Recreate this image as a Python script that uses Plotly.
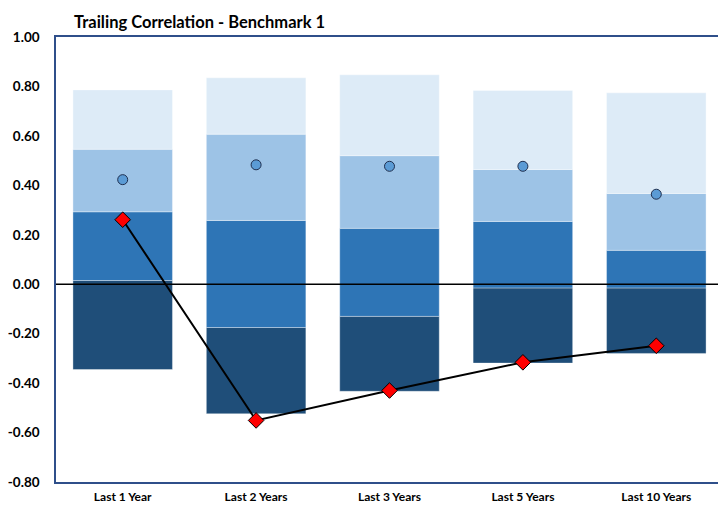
import plotly.graph_objects as go

categories = ["Last 1 Year", "Last 2 Years", "Last 3 Years", "Last 5 Years", "Last 10 Years"]
range_min = [-0.345, -0.524, -0.433, -0.319, -0.280]
range_q1 = [0.015, -0.175, -0.130, -0.015, -0.015]
range_med = [0.293, 0.258, 0.226, 0.254, 0.137]
range_q3 = [0.546, 0.607, 0.520, 0.464, 0.367]
range_max = [0.786, 0.835, 0.847, 0.784, 0.774]
peer_avg = [0.423, 0.483, 0.477, 0.477, 0.364]
portfolio = [0.261, -0.551, -0.430, -0.316, -0.249]
y_ticks = [1.0, 0.8, 0.6, 0.4, 0.2, 0.0, -0.2, -0.4, -0.6, -0.8]

FONT = "Lato, 'Open Sans', Arial, sans-serif"
colors = ["#1F4E79", "#2E75B6", "#9DC3E6", "#DDEBF7"]
edges = [range_min, range_q1, range_med, range_q3, range_max]

# page body has an 8px default margin; figure is sized to fill the rest of the window
W, H = 718, 498

fig = go.Figure()
for i in range(4):
    lo = edges[i]
    hi = edges[i + 1]
    fig.add_trace(go.Bar(
        x=categories,
        y=[h - l for h, l in zip(hi, lo)],
        base=lo,
        marker=dict(color=colors[i], line=dict(color="rgba(255,255,255,0.35)", width=1)),
        showlegend=False,
        hoverinfo="skip",
    ))

fig.add_trace(go.Scatter(
    x=categories, y=peer_avg, mode="markers",
    marker=dict(symbol="circle", size=10, color="#5B9BD5", line=dict(color="#1F2F4F", width=1)),
    showlegend=False,
))
fig.add_trace(go.Scatter(
    x=categories, y=portfolio, mode="lines+markers",
    line=dict(color="black", width=2),
    marker=dict(symbol="diamond", size=12, color="#FF0000", line=dict(color="black", width=1)),
    showlegend=False,
))

fig.add_shape(type="line", xref="paper", yref="y", x0=0, x1=1, y0=0, y1=0,
              line=dict(color="black", width=1.5), layer="above")
fig.add_shape(type="line", xref="paper", yref="paper", x0=1, x1=1, y0=0, y1=1,
              line=dict(color="#7A88A6", width=1.5), layer="above")

fig.update_layout(
    width=W, height=H,
    margin=dict(l=48, r=3, t=29, b=24, autoexpand=False),
    paper_bgcolor="white", plot_bgcolor="white",
    barmode="overlay", bargap=0.254,
    font=dict(family=FONT, color="black"),
    title=dict(text="<b>Trailing Correlation - Benchmark 1</b>", x=66 / W, xanchor="left",
               xref="container", y=1 - 14 / H, yanchor="middle",
               font=dict(size=16.5, family=FONT, color="black")),
    xaxis=dict(showgrid=False, showline=True, linecolor="#2F4F8A", linewidth=1.5, mirror=True,
               tickfont=dict(size=12, family=FONT, color="black"), ticks="",
               ticklabelstandoff=3, automargin=False,
               tickvals=categories, ticktext=["<b>%s</b>" % c for c in categories]),
    yaxis=dict(range=[-0.8, 1.0], tickvals=y_ticks,
               ticktext=["<b>%.2f</b>" % v for v in y_ticks],
               showgrid=False, zeroline=False, showline=True, linecolor="#2F4F8A",
               linewidth=1.5, mirror=False, ticks="", ticklabelstandoff=12, automargin=False,
               tickfont=dict(size=13.5, family=FONT, color="black")),
)

fig.write_html("out.html")
